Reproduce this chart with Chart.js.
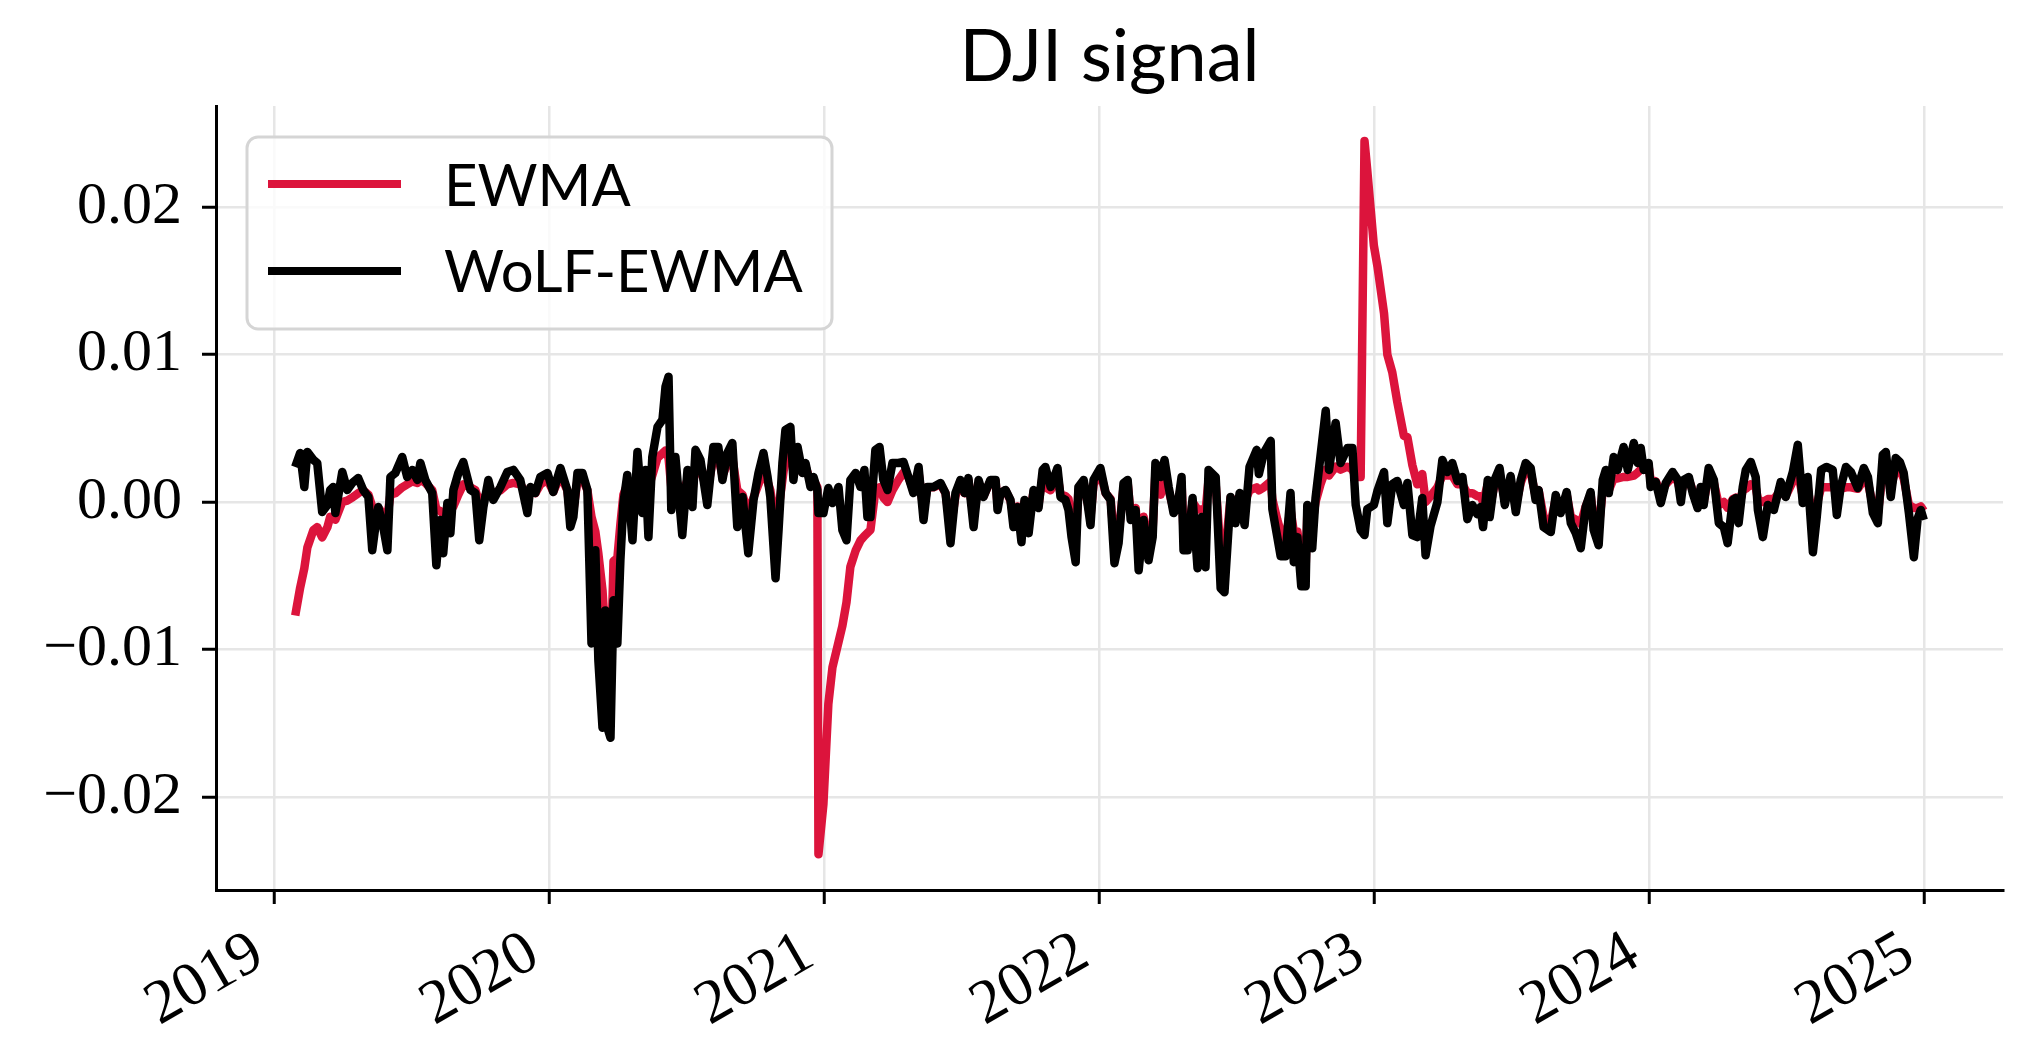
<!DOCTYPE html>
<html>
<head>
<meta charset="utf-8">
<script src="https://cdn.jsdelivr.net/npm/chart.js@4.4.1/dist/chart.umd.min.js"></script>
<style>
  html, body { margin: 0; padding: 0; background: #fff; }
  #wrap { width: 2031px; height: 1058px; }
</style>
</head>
<body>
<div id="wrap"><canvas id="grafico" width="2031" height="1058"></canvas></div>
<script>
// datas em anos decimais (2019.5 = meados de 2019)
const dates = [
  2019.078, 2019.096, 2019.111, 2019.122, 2019.144, 2019.158, 2019.176, 2019.195, 2019.205, 2019.216,
  2019.224, 2019.249, 2019.267, 2019.285, 2019.307, 2019.325, 2019.344, 2019.358, 2019.369, 2019.380,
  2019.398, 2019.413, 2019.424, 2019.442, 2019.467, 2019.485, 2019.504, 2019.522, 2019.533, 2019.551,
  2019.576, 2019.591, 2019.605, 2019.616, 2019.631, 2019.642, 2019.653, 2019.671, 2019.689, 2019.715,
  2019.733, 2019.747, 2019.762, 2019.780, 2019.798, 2019.824, 2019.849, 2019.871, 2019.896, 2019.922,
  2019.933, 2019.951, 2019.969, 2019.995, 2020.016, 2020.042, 2020.067, 2020.078, 2020.089, 2020.104,
  2020.122, 2020.140, 2020.155, 2020.169, 2020.180, 2020.195, 2020.205, 2020.213, 2020.224, 2020.235,
  2020.249, 2020.260, 2020.271, 2020.285, 2020.304, 2020.322, 2020.340, 2020.351, 2020.362, 2020.376,
  2020.395, 2020.413, 2020.424, 2020.435, 2020.445, 2020.460, 2020.485, 2020.504, 2020.522, 2020.533,
  2020.551, 2020.576, 2020.598, 2020.616, 2020.631, 2020.649, 2020.667, 2020.685, 2020.704, 2020.725,
  2020.744, 2020.762, 2020.780, 2020.795, 2020.805, 2020.824, 2020.835, 2020.849, 2020.860, 2020.878,
  2020.889, 2020.904, 2020.922, 2020.933, 2020.951, 2020.962, 2020.976, 2020.980, 2020.998, 2021.016,
  2021.031, 2021.053, 2021.067, 2021.082, 2021.096, 2021.115, 2021.133, 2021.147, 2021.158, 2021.169,
  2021.187, 2021.202, 2021.216, 2021.231, 2021.249, 2021.271, 2021.289, 2021.307, 2021.325, 2021.344,
  2021.362, 2021.376, 2021.398, 2021.424, 2021.442, 2021.460, 2021.478, 2021.496, 2021.511, 2021.525,
  2021.544, 2021.562, 2021.580, 2021.605, 2021.624, 2021.631, 2021.642, 2021.660, 2021.678, 2021.689,
  2021.704, 2021.718, 2021.729, 2021.744, 2021.762, 2021.780, 2021.795, 2021.805, 2021.824, 2021.849,
  2021.860, 2021.878, 2021.889, 2021.900, 2021.915, 2021.925, 2021.944, 2021.958, 2021.969, 2021.980,
  2022.005, 2022.024, 2022.042, 2022.056, 2022.071, 2022.089, 2022.104, 2022.115, 2022.133, 2022.144,
  2022.162, 2022.180, 2022.195, 2022.205, 2022.224, 2022.238, 2022.253, 2022.271, 2022.285, 2022.300,
  2022.307, 2022.322, 2022.340, 2022.358, 2022.373, 2022.387, 2022.398, 2022.424, 2022.442, 2022.456,
  2022.478, 2022.496, 2022.511, 2022.529, 2022.547, 2022.573, 2022.581, 2022.599, 2022.624, 2022.630,
  2022.648, 2022.660, 2022.678, 2022.696, 2022.708, 2022.721, 2022.735, 2022.751, 2022.757, 2022.775,
  2022.787, 2022.805, 2022.824, 2022.836, 2022.860, 2022.878, 2022.903, 2022.921, 2022.933, 2022.951,
  2022.965, 2022.975, 2022.999, 2023.012, 2023.036, 2023.048, 2023.066, 2023.084, 2023.108, 2023.121,
  2023.139, 2023.157, 2023.175, 2023.187, 2023.205, 2023.230, 2023.248, 2023.266, 2023.284, 2023.303,
  2023.321, 2023.339, 2023.357, 2023.375, 2023.387, 2023.396, 2023.413, 2023.420, 2023.438, 2023.456,
  2023.475, 2023.496, 2023.515,
  2023.533, 2023.551, 2023.569, 2023.587, 2023.598, 2023.616, 2023.642, 2023.660, 2023.678, 2023.700,
  2023.715, 2023.733, 2023.751, 2023.769, 2023.787, 2023.798, 2023.816, 2023.831, 2023.842, 2023.853,
  2023.871, 2023.885, 2023.907, 2023.922, 2023.944, 2023.958, 2023.969, 2023.980, 2023.998, 2024.005,
  2024.024, 2024.042, 2024.060, 2024.085, 2024.104, 2024.115, 2024.125, 2024.144, 2024.158, 2024.176,
  2024.187, 2024.198, 2024.216, 2024.235, 2024.253, 2024.271, 2024.285, 2024.304, 2024.315, 2024.325,
  2024.340, 2024.351, 2024.369, 2024.387, 2024.395, 2024.413, 2024.431, 2024.453, 2024.478, 2024.496,
  2024.522, 2024.540, 2024.558, 2024.576, 2024.595, 2024.609, 2024.625, 2024.644, 2024.667, 2024.682,
  2024.696, 2024.715, 2024.733, 2024.758, 2024.780, 2024.795, 2024.813, 2024.831, 2024.849, 2024.860,
  2024.878, 2024.896, 2024.911, 2024.925, 2024.944, 2024.962, 2024.976, 2024.987, 2024.998
];

// sinal EWMA (vermelho)
const ewma = [
  -0.0077, -0.0058, -0.0045, -0.0031, -0.0019, -0.0017, -0.0024, -0.0017, -0.0010, -0.0011,
  -0.0012, 0.0000, 0.0001, 0.0003, 0.0006, 0.0008, 0.0005, -0.0003, -0.0005, -0.0004,
  -0.0008, -0.0010, 0.0005, 0.0006, 0.0010, 0.0012, 0.0014, 0.0013, 0.0015, 0.0013,
  0.0008, -0.0005, -0.0006, -0.0008, -0.0005, -0.0006, -0.0003, 0.0005, 0.0012, 0.0010,
  0.0008, 0.0000, 0.0002, 0.0008, 0.0006, 0.0008, 0.0012, 0.0013, 0.0012, 0.0005,
  0.0007, 0.0006, 0.0012, 0.0015, 0.0007, 0.0018, 0.0008, -0.0008, -0.0006, 0.0015,
  0.0016, 0.0008, -0.0010, -0.0020, -0.0035, -0.0060, -0.0090, -0.0100, -0.0120, -0.0040,
  -0.0038, -0.0015, 0.0005, 0.0012, 0.0008, 0.0015, 0.0010, 0.0015, 0.0010, 0.0018,
  0.0030, 0.0033, 0.0035, 0.0030, 0.0010, 0.0015, 0.0005, 0.0015, 0.0008, 0.0025,
  0.0022, 0.0008, 0.0030, 0.0030, 0.0018, 0.0026, 0.0030, 0.0008, 0.0005, -0.0008,
  0.0003, 0.0012, 0.0022, 0.0014, 0.0008, -0.0015, -0.0005, 0.0015, 0.0030, 0.0040,
  0.0020, 0.0030, 0.0020, 0.0024, 0.0014, 0.0015, 0.0010, -0.0239, -0.0205, -0.0137,
  -0.0112, -0.0095, -0.0084, -0.0068, -0.0044, -0.0033, -0.0026, -0.0023, -0.0021, -0.0019,
  0.0008, 0.0010, 0.0003, 0.0000, 0.0008, 0.0015, 0.0020, 0.0017, 0.0008, 0.0020,
  -0.0006, 0.0010, 0.0010, 0.0012, 0.0006, -0.0018, 0.0004, 0.0014, 0.0006, 0.0015,
  -0.0010, 0.0013, 0.0004, 0.0014, 0.0014, -0.0002, 0.0006, 0.0008, 0.0001, -0.0010,
  -0.0003, -0.0016, 0.0000, -0.0012, 0.0007, -0.0002, 0.0018, 0.0010, 0.0008, 0.0018,
  0.0005, 0.0004, 0.0002, -0.0012, -0.0025, 0.0008, 0.0013, 0.0000, -0.0010, 0.0012,
  0.0020, 0.0006, 0.0002, -0.0028, -0.0022, 0.0010, 0.0013, -0.0008, -0.0004, -0.0030,
  -0.0010, -0.0028, -0.0018, 0.0020, 0.0005, 0.0018, 0.0008, -0.0005, -0.0003, 0.0013,
  -0.0020, -0.0022, 0.0000, -0.0005, -0.0005, -0.0006, 0.0015, 0.0012, -0.0035, -0.0040,
  0.0003, 0.0000, 0.0003, 0.0000, 0.0008, 0.0010, 0.0008, 0.0010, 0.0014, 0.0002,
  -0.0012, -0.0020, -0.0025, -0.0005, -0.0020, -0.0020, -0.0040, -0.0045, -0.0008, -0.0015,
  0.0000, 0.0012, 0.0022, 0.0018, 0.0024, 0.0022, 0.0024, 0.0022, 0.0017, 0.0017,
  0.0245, 0.0225, 0.0174, 0.0160, 0.0128, 0.0100, 0.0088, 0.0068, 0.0045, 0.0044,
  0.0025, 0.0012, 0.0019, 0.0000, 0.0004, 0.0010, 0.0018, 0.0018, 0.0018, 0.0012,
  0.0012, 0.0006, 0.0006, 0.0004, 0.0004, 0.0000, 0.0012, -0.0004, 0.0012, 0.0018,
  0.0002, 0.0014, -0.0002,
  0.0013, 0.0022, 0.0020, 0.0004, 0.0008, -0.0010, -0.0014, 0.0002, -0.0005, 0.0005,
  -0.0010, -0.0012, -0.0015, -0.0003, 0.0005, -0.0012, -0.0018, 0.0008, 0.0012, 0.0008,
  0.0016, 0.0016, 0.0017, 0.0017, 0.0018, 0.0020, 0.0022, 0.0022, 0.0024, 0.0015,
  0.0014, 0.0006, 0.0012, 0.0017, 0.0014, 0.0005, 0.0013, 0.0015, 0.0008, 0.0000,
  0.0008, 0.0000, 0.0018, 0.0013, -0.0002, 0.0000, -0.0004, 0.0002, 0.0003, -0.0004,
  0.0008, 0.0009, 0.0012, 0.0010, 0.0002, 0.0000, 0.0002, 0.0002, 0.0008, 0.0004,
  0.0014, 0.0020, 0.0004, 0.0010, -0.0015, -0.0002, 0.0010, 0.0010, 0.0010, 0.0008,
  0.0009, 0.0010, 0.0010, 0.0009, 0.0015, 0.0013, -0.0002, -0.0008, 0.0020, 0.0024,
  0.0010, 0.0022, 0.0022, 0.0016, -0.0002, -0.0004, -0.0004, -0.0003, -0.0006
];

// sinal WoLF-EWMA (preto)
const wolfEwma = [
  0.00238, 0.00333, 0.00102, 0.00340, 0.00286, 0.00265, -0.00068, -0.00020, 0.00082, 0.00102,
  -0.00075, 0.00204, 0.00082, 0.00129, 0.00163, 0.00082, 0.00034, -0.00327, -0.00170, -0.00034,
  -0.00170, -0.00327, 0.00170, 0.00197, 0.00306, 0.00170, 0.00218, 0.00150, 0.00265, 0.00150,
  0.00061, -0.00429, -0.00122, -0.00347, -0.00007, -0.00211, 0.00082, 0.00197, 0.00272, 0.00082,
  0.00061, -0.00259, -0.00034, 0.00150, 0.00014, 0.00102, 0.00204, 0.00218, 0.00150, -0.00075,
  0.00102, 0.00061, 0.00170, 0.00197, 0.00068, 0.00231, 0.00082, -0.00170, -0.00102, 0.00197,
  0.00197, 0.00082, -0.00959, -0.00327, -0.01075, -0.01531, -0.00735, -0.01531, -0.01599, -0.00667,
  -0.00959, -0.00395, -0.00007, 0.00184, -0.00259, 0.00340, -0.00075, 0.00218, -0.00238, 0.00306,
  0.00510, 0.00558, 0.00782, 0.00850, -0.00054, 0.00306, -0.00224, 0.00218, -0.00034, 0.00354,
  0.00286, -0.00020, 0.00374, 0.00374, 0.00150, 0.00333, 0.00401, -0.00170, 0.00034, -0.00347,
  0.00014, 0.00197, 0.00333, 0.00170, 0.00034, -0.00517, -0.00190, 0.00265, 0.00490, 0.00510,
  0.00150, 0.00374, 0.00197, 0.00265, 0.00102, 0.00170, 0.00082, -0.00075, -0.00075, 0.00095,
  -0.00007, 0.00102, -0.00190, -0.00259, 0.00150, 0.00197, 0.00102, 0.00218, -0.00102, -0.00102,
  0.00354, 0.00374, 0.00150, 0.00082, 0.00265, 0.00265, 0.00272, 0.00170, 0.00061, 0.00238,
  -0.00122, 0.00102, 0.00102, 0.00129, 0.00061, -0.00279, 0.00061, 0.00150, 0.00061, 0.00163,
  -0.00170, 0.00150, 0.00034, 0.00150, 0.00150, -0.00054, 0.00061, 0.00082, 0.00014, -0.00170,
  -0.00034, -0.00272, 0.00014, -0.00211, 0.00082, -0.00041, 0.00218, 0.00238, 0.00102, 0.00231,
  0.00034, 0.00014, -0.00054, -0.00238, -0.00408, 0.00102, 0.00150, -0.00007, -0.00156, 0.00150,
  0.00231, 0.00061, 0.00014, -0.00415, -0.00279, 0.00129, 0.00150, -0.00122, -0.00054, -0.00463,
  -0.00122, -0.00395, -0.00238, 0.00265, 0.00170, 0.00286, 0.00102, -0.00075, -0.00034, 0.00170,
  -0.00327, -0.00327, 0.00027, -0.00449, -0.00102, -0.00442, 0.00218, 0.00170, -0.00585, -0.00612,
  0.00034, -0.00143, 0.00061, -0.00156, 0.00238, 0.00354, 0.00190, 0.00333, 0.00415, -0.00048,
  -0.00238, -0.00367, -0.00367, 0.00061, -0.00408, -0.00238, -0.00571, -0.00571, -0.00020, -0.00313,
  0.00027, 0.00313, 0.00619, 0.00218, 0.00537, 0.00265, 0.00367, 0.00367, -0.00020, -0.00190,
  -0.00224, -0.00048, -0.00020, 0.00075, 0.00204, -0.00143, 0.00122, 0.00143, -0.00020, 0.00129,
  -0.00224, -0.00238, 0.00027, -0.00361, -0.00163, 0.00000, 0.00286, 0.00204, 0.00265, 0.00143,
  0.00170, -0.00116, -0.00020, -0.00082, -0.00034, -0.00170, 0.00150, -0.00102, 0.00150, 0.00231,
  -0.00020, 0.00177, -0.00068,
  0.00150, 0.00265, 0.00231, 0.00014, 0.00082, -0.00170, -0.00204, 0.00048, -0.00075, 0.00068,
  -0.00143, -0.00211, -0.00313, -0.00034, 0.00068, -0.00190, -0.00293, 0.00150, 0.00218, 0.00061,
  0.00306, 0.00218, 0.00374, 0.00218, 0.00401, 0.00265, 0.00367, 0.00218, 0.00265, 0.00102,
  0.00136, -0.00007, 0.00129, 0.00204, 0.00150, 0.00000, 0.00150, 0.00170, 0.00061, -0.00041,
  0.00102, -0.00020, 0.00231, 0.00150, -0.00143, -0.00170, -0.00279, 0.00014, 0.00027, -0.00143,
  0.00102, 0.00218, 0.00272, 0.00170, -0.00054, -0.00238, -0.00020, -0.00054, 0.00136, 0.00034,
  0.00204, 0.00388, -0.00007, 0.00170, -0.00340, -0.00102, 0.00218, 0.00238, 0.00218, -0.00088,
  0.00102, 0.00238, 0.00204, 0.00095, 0.00231, 0.00170, -0.00075, -0.00143, 0.00320, 0.00340,
  0.00034, 0.00299, 0.00272, 0.00197, -0.00075, -0.00374, -0.00109, -0.00054, -0.00122
];

const yearTicks = [2019, 2020, 2021, 2022, 2023, 2024, 2025];
const valueTicks = [-0.02, -0.01, 0, 0.01, 0.02];
const valueTickLabels = ['\u22120.02', '\u22120.01', '0.00', '0.01', '0.02'];

function pontos(valores) {
    return dates.map((d, i) => ({ x: d, y: valores[i] }));
}

// legenda desenhada à mão (caixa arredondada, estilo matplotlib)
const legendaQuadro = {
    id: 'legendaQuadro',
    afterDraw(chart) {
        const ctx = chart.ctx;
        const area = chart.chartArea;
        const x0 = area.left + 31, y0 = area.top + 31, w = 585, h = 192;
        ctx.save();
        ctx.beginPath();
        ctx.roundRect(x0, y0, w, h, 11);
        ctx.fillStyle = 'rgba(255,255,255,0.8)';
        ctx.fill();
        ctx.lineWidth = 3;
        ctx.strokeStyle = '#d5d5d5';
        ctx.stroke();
        chart.data.datasets.forEach(function (ds, i) {
            const ly = y0 + 47 + i * 87;
            ctx.beginPath();
            ctx.moveTo(x0 + 21, ly);
            ctx.lineTo(x0 + 154, ly);
            ctx.lineWidth = 8;
            ctx.lineCap = 'butt';
            ctx.strokeStyle = ds.borderColor;
            ctx.stroke();
            ctx.fillStyle = '#000';
            ctx.font = '58px Lato';
            ctx.textBaseline = 'alphabetic';
            ctx.textAlign = 'left';
            ctx.fillText(ds.label, x0 + 197, y0 + 68.5 + i * 86.5);
        });
        ctx.restore();
    }
};

const config = {
    type: 'line',
    data: {
        datasets: [
            {
                label: 'EWMA',
                data: pontos(ewma),
                borderColor: '#dc143c',
                borderWidth: 8.5,
                pointRadius: 0,
                tension: 0,
                fill: false,
                borderJoinStyle: 'round',
                order: 2
            },
            {
                label: 'WoLF-EWMA',
                data: pontos(wolfEwma),
                borderColor: '#000000',
                borderWidth: 8.5,
                pointRadius: 0,
                tension: 0,
                fill: false,
                borderJoinStyle: 'round',
                order: 1
            }
        ]
    },
    options: {
        responsive: false,
        animation: false,
        devicePixelRatio: 1,
        layout: { padding: { left: 0, right: 28, top: 0, bottom: 0 } },
        plugins: {
            legend: { display: false },
            tooltip: { enabled: false },
            title: {
                display: true,
                text: 'DJI signal',
                fullSize: false,
                color: '#000',
                font: { family: 'Lato', size: 72, weight: 'normal', lineHeight: 1.2 },
                padding: { top: 15, bottom: 4.6 }
            }
        },
        scales: {
            x: {
                type: 'linear',
                min: 2018.79,
                max: 2025.286,
                afterBuildTicks: function (s) { s.ticks = yearTicks.map(v => ({ value: v })); },
                afterFit: function (s) { s.height = 168; },
                ticks: {
                    autoSkip: false,
                    minRotation: 30,
                    maxRotation: 30,
                    padding: 13,
                    labelOffset: -15,
                    color: '#000',
                    font: { family: 'Liberation Serif', size: 62 },
                    callback: function (v) { return String(v); }
                },
                grid: { color: '#e6e6e6', lineWidth: 2.5, tickColor: '#000', tickLength: 14, tickWidth: 3 },
                border: { color: '#000', width: 3 }
            },
            y: {
                min: -0.026319,
                max: 0.026868,
                afterBuildTicks: function (s) { s.ticks = valueTicks.map(v => ({ value: v })); },
                afterFit: function (s) { s.width = 216; },
                ticks: {
                    padding: 20,
                    color: '#000',
                    font: { family: 'Liberation Serif', size: 60 },
                    callback: function (v, i) { return valueTickLabels[i]; }
                },
                grid: { color: '#e6e6e6', lineWidth: 2.5, tickColor: '#000', tickLength: 14, tickWidth: 3 },
                border: { color: '#000', width: 3 }
            }
        }
    },
    plugins: [legendaQuadro]
};

const myChart = new Chart(document.getElementById('grafico'), config);
</script>
</body>
</html>
